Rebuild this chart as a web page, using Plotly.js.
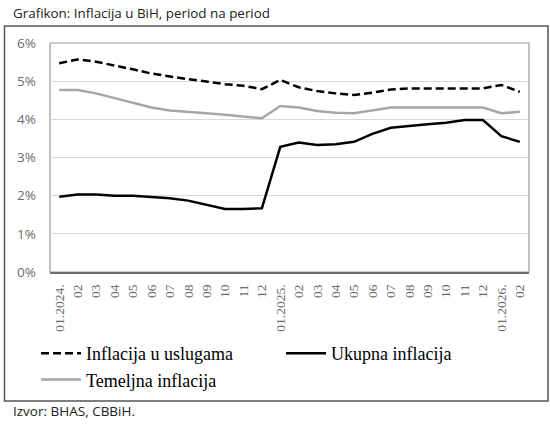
<!DOCTYPE html>
<html>
<head>
<meta charset="utf-8">
<script src="https://cdn.plot.ly/plotly-3.0.1.min.js"></script>
<style>html,body{margin:0;padding:0;background:#fff;}#chart{width:550px;height:424px;}</style>
</head>
<body>
<div id="chart"></div>
<script>
const periods = ["01.2024.","02","03","04","05","06","07","08","09","10","11","12",
                 "01.2025.","02","03","04","05","06","07","08","09","10","11","12",
                 "01.2026.","02"];
const uslugeInflacija = [5.47,5.57,5.51,5.42,5.31,5.20,5.12,5.05,4.99,4.92,4.88,4.79,
                         5.03,4.84,4.74,4.68,4.64,4.70,4.78,4.81,4.81,4.81,4.81,4.81,4.90,4.72];
const ukupnaInflacija = [1.97,2.03,2.03,2.00,2.00,1.96,1.93,1.87,1.76,1.65,1.65,1.67,
                         3.28,3.39,3.33,3.35,3.41,3.62,3.78,3.83,3.87,3.91,3.98,3.98,3.56,3.41];
const temeljnaInflacija = [4.77,4.77,4.68,4.55,4.42,4.31,4.23,4.20,4.16,4.12,4.07,4.03,
                           4.35,4.31,4.22,4.17,4.16,4.23,4.31,4.31,4.31,4.31,4.31,4.31,4.16,4.20];
const yTicks = [0,1,2,3,4,5,6];
const yTickLabels = ["0%","1%","2%","3%","4%","5%","6%"];

const xIdx = periods.map((p,i)=>i);

const traces = [
  {x:xIdx, y:uslugeInflacija, type:'scatter', mode:'lines', name:'Inflacija u uslugama',
   line:{color:'#000', width:2.5, dash:'8px,4px'}},
  {x:xIdx, y:ukupnaInflacija, type:'scatter', mode:'lines', name:'Ukupna inflacija',
   line:{color:'#000', width:2.5}},
  {x:xIdx, y:temeljnaInflacija, type:'scatter', mode:'lines', name:'Temeljna inflacija',
   line:{color:'#a6a6a6', width:2.5}}
];

const L=50, R=21, T=43, B=152, W=550-L-R, H=424-T-B;
const px = v => (v-L)/W;
const py = v => (424-B-v)/H;

const layout = {
  width:550, height:424,
  margin:{l:L, r:R, t:T, b:B, pad:0, autoexpand:false},
  paper_bgcolor:'#fff', plot_bgcolor:'#fff',
  showlegend:true,
  legend:{orientation:'h', x:px(36), y:py(335), xanchor:'left', yanchor:'top',
          entrywidth:190, entrywidthmode:'pixels', traceorder:'normal',
          font:{family:'Liberation Serif, serif', size:18, color:'#000'},
          itemwidth:40, tracegroupgap:0, bgcolor:'rgba(0,0,0,0)'},
  xaxis:{range:[-0.5,25.5], tickmode:'array', tickvals:xIdx, ticktext:periods,
         tickangle:-90, showgrid:false, zeroline:false, showline:true,
         linecolor:'#6e6e6e', linewidth:2, ticks:'', ticklabelstandoff:5,
         tickfont:{family:'Liberation Serif, serif', size:13.5, color:'#6b6b6b'},
         fixedrange:true},
  yaxis:{range:[0,6], tickmode:'array', tickvals:yTicks, ticktext:yTickLabels,
         showgrid:true, gridcolor:'#d9d9d9', gridwidth:1, zeroline:false,
         showline:false, ticks:'', ticklabelstandoff:13,
         tickfont:{family:'Open Sans, sans-serif', size:13.5, color:'#6b6b6b'},
         fixedrange:true},
  shapes:[
    {type:'rect', xref:'paper', yref:'paper', x0:0, x1:1, y0:0, y1:1,
     line:{color:'#9a9a9a', width:1.2}, layer:'below'},
    {type:'rect', xref:'paper', yref:'paper', x0:px(4.5), x1:px(548), y0:py(401), y1:py(26),
     line:{color:'#555', width:1.5}, layer:'below'}
  ],
  annotations:[
    {text:'Grafikon: Inflacija u BiH, period na period', xref:'paper', yref:'paper',
     x:px(11), y:py(13), xanchor:'left', yanchor:'middle', showarrow:false,
     font:{family:'Open Sans, sans-serif', size:13.4, color:'#222'}},
    {text:'Izvor: BHAS, CBBiH.', xref:'paper', yref:'paper',
     x:px(11), y:py(411), xanchor:'left', yanchor:'middle', showarrow:false,
     font:{family:'Open Sans, sans-serif', size:13.5, color:'#222'}}
  ]
};

Plotly.newPlot('chart', traces, layout, {displayModeBar:false, staticPlot:true});
</script>
</body>
</html>
